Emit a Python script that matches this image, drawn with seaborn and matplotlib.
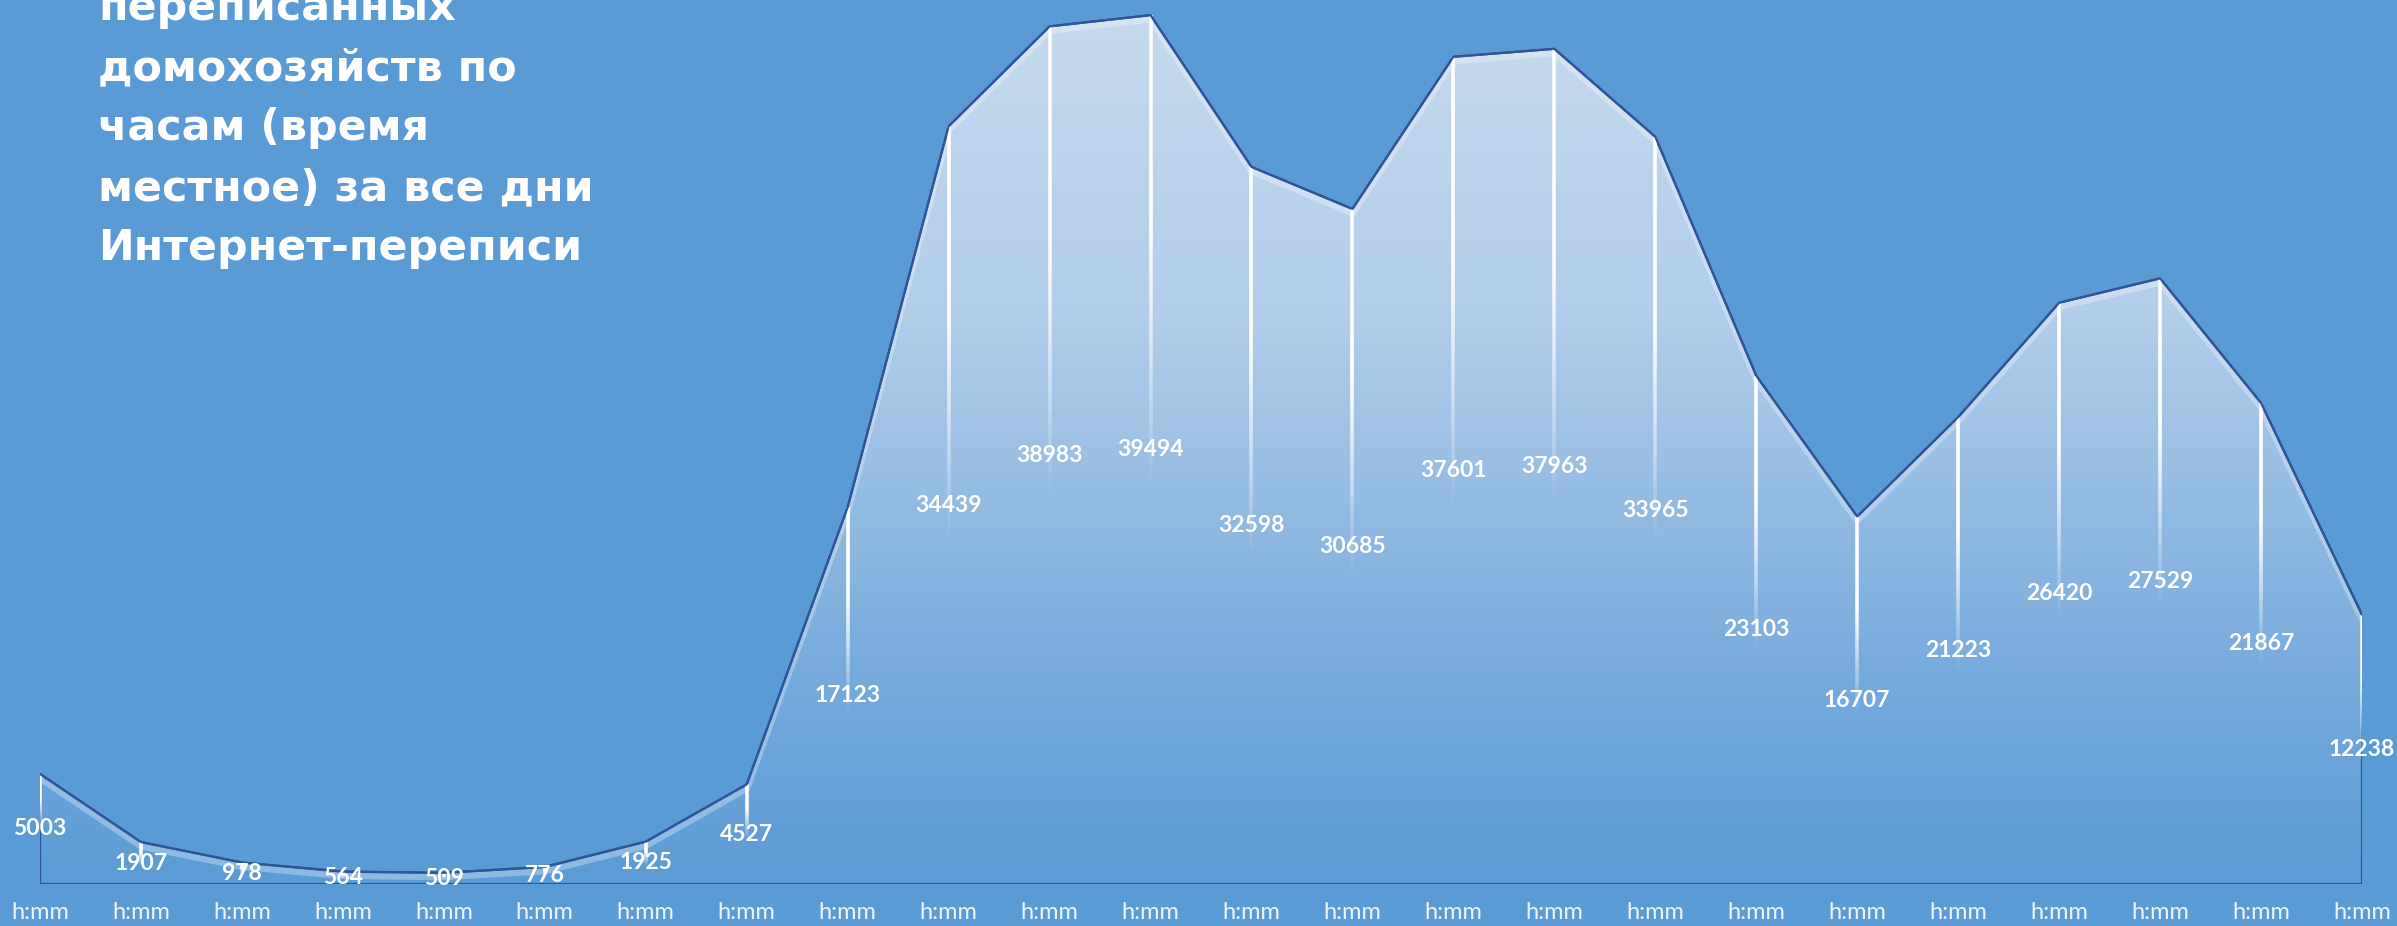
"""
Hourly count of households enumerated via the Internet census (local time).
Area chart with gradient fill, drop lines and centred value labels.
"""

import numpy as np
import matplotlib
matplotlib.use("Agg")
import matplotlib.pyplot as plt
import matplotlib.transforms as mtransforms
from matplotlib.colors import LinearSegmentedColormap
from matplotlib.collections import LineCollection
import seaborn as sns
import pandas as pd

# Data
hours = list(range(24))
households = [5003, 1907, 978, 564, 509, 776, 1925, 4527, 17123, 34439, 38983, 39494,
              32598, 30685, 37601, 37963, 33965, 23103, 16707, 21223, 26420, 27529,
              21867, 12238]
tick_labels = ["h:mm"] * 24
title_lines = ["Количество", "переписанных", "домохозяйств по", "часам (время",
               "местное) за все дни", "Интернет-переписи"]

# Style
BG = "#5B9BD5"
LINE = "#2F5597"
sns.set_theme(style="white")
plt.rcParams["font.family"] = ["DejaVu Sans"]

W, H, DPI = 2397, 926, 100
fig = plt.figure(figsize=(W / DPI, H / DPI), dpi=DPI, facecolor=BG)
ax = fig.add_axes([40 / W, 1 - 884 / H, (2362 - 40) / W, (884 - 4) / H])
ax.set_facecolor(BG)

df = pd.DataFrame({"hour": hours, "households": households})
ymax = 40000
ax.set_xlim(0, 23)
ax.set_ylim(0, ymax)

# gradient fill clipped to the area
poly = ax.fill_between(df["hour"], df["households"], 0, facecolor="none",
                       edgecolor=LINE, linewidth=1.6, zorder=3)
stops = [(0.0, (92, 155, 213)), (0.22, (116, 169, 220)), (0.47, (152, 190, 227)),
         (0.66, (178, 206, 234)), (1.0, (197, 218, 238))]
cmap = LinearSegmentedColormap.from_list(
    "fill", [(p, tuple(c / 255 for c in col)) for p, col in stops])
grad = np.linspace(0, 1, 512).reshape(-1, 1)
top = max(households)
img = ax.imshow(grad, extent=[0, 23, 0, top], origin="lower", aspect="auto",
                cmap=cmap, zorder=1, interpolation="bicubic")
clip = poly.get_paths()[0]
img.set_clip_path(clip, transform=ax.transData)

# light band just under the line
band_tr = mtransforms.offset_copy(ax.transData, fig=fig, y=-4, units="dots")
band, = ax.plot(df["hour"], df["households"], color="white", alpha=0.3, lw=5,
                transform=band_tr, zorder=2, solid_joinstyle="miter")
band.set_clip_path(clip, transform=ax.transData)

# drop lines fading from white to transparent
for x, v in zip(hours, households):
    n = 60
    ys = np.linspace(v, v * 0.45, n + 1)
    segs = [[(x, ys[i]), (x, ys[i + 1])] for i in range(n)]
    alpha = np.clip(np.linspace(1.8, 0.0, n), 0, 1)
    cols = [(1, 1, 1, a) for a in alpha]
    ax.add_collection(LineCollection(segs, colors=cols, linewidths=2.6, zorder=4,
                                     capstyle="butt"))

sns.lineplot(data=df, x="hour", y="households", color=LINE, linewidth=1.6,
             ax=ax, zorder=5)

# value labels at half height
for x, v in zip(hours, households):
    ax.text(x, v / 2, f"{v}", ha="center", va="center", color="white",
            fontsize=16.5, fontweight="bold", family=["Lato", "DejaVu Sans"], zorder=6)

ax.set_xticks(hours)
ax.set_xticklabels(tick_labels, fontsize=17, color="#EEF3FA",
                   family=["Lato", "DejaVu Sans"])
ax.tick_params(axis="x", length=0, pad=13)
ax.set_yticks([])
ax.set_xlabel("")
ax.set_ylabel("")
for s in ax.spines.values():
    s.set_visible(False)

# title block in the top-left corner (first line runs off the canvas)
for i, line in enumerate(title_lines):
    base_px = -40 + 60 * i
    fig.text(98 / W, 1 - base_px / H, line, ha="left", va="baseline",
             color="white", fontsize=30.8, fontweight="bold")

fig.savefig("out.png", dpi=DPI, facecolor=BG)
